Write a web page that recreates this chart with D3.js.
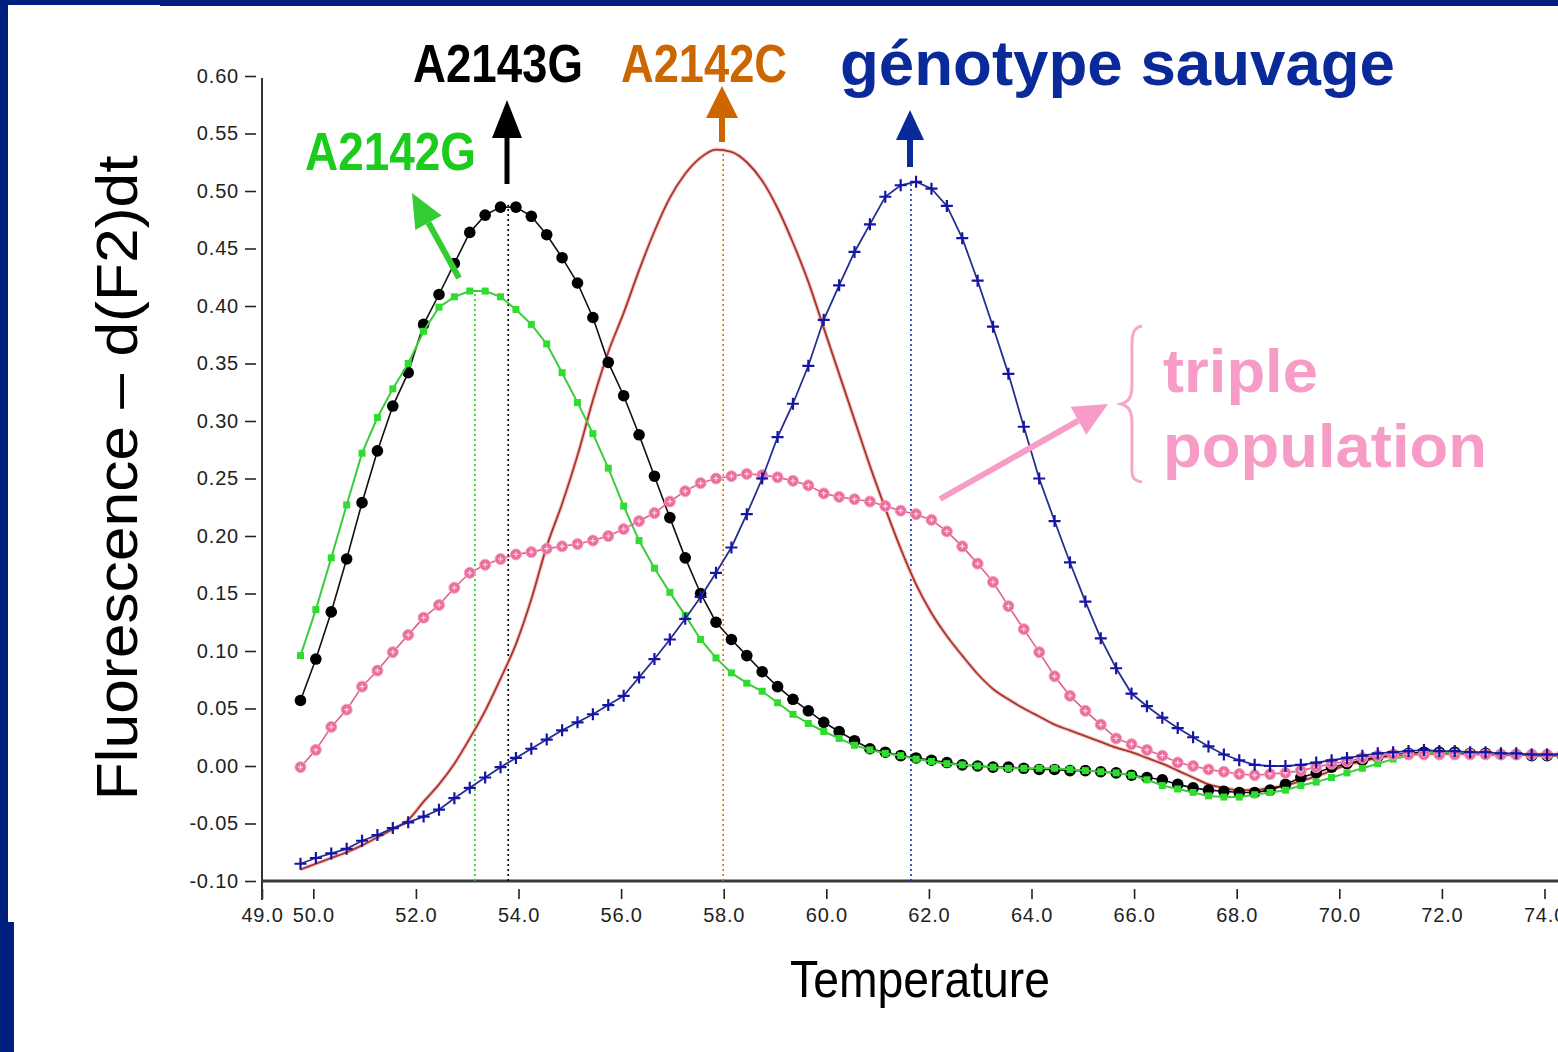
<!DOCTYPE html>
<html>
<head>
<meta charset="utf-8">
<script src="https://cdn.jsdelivr.net/npm/d3@7"></script>
<style>
  body { margin: 0; background: #fff; }
  svg { display: block; }
  text { font-family: "Liberation Sans", Arial, sans-serif; }
</style>
</head>
<body>
<svg id="chart" width="1558" height="1052"></svg>
<script>
// melting temperature scan, shared x grid (deg C)
var temps = [49.75, 50.05, 50.35, 50.65, 50.95, 51.25, 51.55, 51.85, 52.15, 52.45,
  52.75, 53.05, 53.35, 53.65, 53.95, 54.25, 54.55, 54.85, 55.15, 55.45,
  55.75, 56.05, 56.35, 56.65, 56.95, 57.25, 57.55, 57.85, 58.15, 58.45,
  58.75, 59.05, 59.35, 59.65, 59.95, 60.25, 60.55, 60.85, 61.15, 61.45,
  61.75, 62.05, 62.35, 62.65, 62.95, 63.25, 63.55, 63.85, 64.15, 64.45,
  64.75, 65.05, 65.35, 65.65, 65.95, 66.25, 66.55, 66.85, 67.15, 67.45,
  67.75, 68.05, 68.35, 68.65, 68.95, 69.25, 69.55, 69.85, 70.15, 70.45,
  70.75, 71.05, 71.35, 71.65, 71.95, 72.25, 72.55, 72.85, 73.15, 73.45,
  73.75, 74.05, 74.35];

var a2142G = [0.096, 0.136, 0.181, 0.227, 0.272, 0.303, 0.328, 0.350, 0.378, 0.399,
  0.408, 0.413, 0.413, 0.408, 0.397, 0.384, 0.367, 0.342, 0.316, 0.289,
  0.259, 0.226, 0.196, 0.172, 0.151, 0.131, 0.110, 0.094, 0.081, 0.072,
  0.065, 0.055, 0.045, 0.037, 0.030, 0.024, 0.018, 0.014, 0.011, 0.009,
  0.006, 0.004, 0.002, 0.001, 0.000, -0.001, -0.002, -0.002, -0.002, -0.002,
  -0.003, -0.004, -0.005, -0.006, -0.008, -0.012, -0.017, -0.020, -0.023, -0.026,
  -0.027, -0.027, -0.025, -0.023, -0.021, -0.017, -0.014, -0.010, -0.006, -0.002,
  0.002, 0.006, 0.009, 0.011, 0.012, 0.012, 0.012, 0.011, 0.011, 0.010,
  0.010, 0.010, 0.010];

var a2143G = [0.057, 0.093, 0.134, 0.180, 0.229, 0.274, 0.313, 0.342, 0.384, 0.410,
  0.437, 0.464, 0.479, 0.486, 0.486, 0.478, 0.462, 0.442, 0.420, 0.390,
  0.351, 0.322, 0.288, 0.252, 0.216, 0.181, 0.150, 0.125, 0.110, 0.096,
  0.082, 0.069, 0.058, 0.048, 0.038, 0.030, 0.022, 0.015, 0.012, 0.009,
  0.007, 0.005, 0.003, 0.001, 0.000, -0.001, -0.001, -0.002, -0.003, -0.003,
  -0.004, -0.004, -0.005, -0.006, -0.008, -0.010, -0.012, -0.016, -0.019, -0.021,
  -0.022, -0.023, -0.023, -0.021, -0.016, -0.010, -0.006, -0.001, 0.002, 0.005,
  0.008, 0.010, 0.011, 0.012, 0.012, 0.012, 0.011, 0.011, 0.010, 0.010,
  0.009, 0.009, 0.009];

var a2142C = [-0.090, -0.085, -0.080, -0.075, -0.069, -0.062, -0.055, -0.047, -0.031, -0.016,
  0.002, 0.024, 0.048, 0.076, 0.106, 0.145, 0.191, 0.228, 0.270, 0.318,
  0.360, 0.394, 0.431, 0.465, 0.494, 0.515, 0.529, 0.536, 0.534, 0.525,
  0.509, 0.485, 0.455, 0.421, 0.381, 0.341, 0.301, 0.261, 0.224, 0.189,
  0.158, 0.133, 0.113, 0.096, 0.080, 0.067, 0.058, 0.050, 0.043, 0.036,
  0.031, 0.026, 0.021, 0.016, 0.012, 0.007, 0.002, -0.004, -0.010, -0.016,
  -0.019, -0.021, -0.021, -0.019, -0.017, -0.013, -0.009, -0.004, 0.001, 0.004,
  0.007, 0.009, 0.010, 0.011, 0.011, 0.011, 0.011, 0.010, 0.010, 0.010,
  0.010, 0.010, 0.010];

var sauvage = [-0.085, -0.080, -0.076, -0.072, -0.065, -0.060, -0.054, -0.049, -0.044, -0.038,
  -0.028, -0.019, -0.010, -0.001, 0.007, 0.015, 0.023, 0.031, 0.038, 0.045,
  0.053, 0.061, 0.077, 0.093, 0.110, 0.128, 0.147, 0.168, 0.190, 0.219,
  0.250, 0.286, 0.315, 0.348, 0.388, 0.418, 0.447, 0.471, 0.495, 0.505,
  0.508, 0.502, 0.487, 0.459, 0.422, 0.382, 0.341, 0.295, 0.250, 0.213,
  0.177, 0.143, 0.111, 0.085, 0.063, 0.052, 0.042, 0.033, 0.025, 0.017,
  0.010, 0.005, 0.001, 0.000, 0.000, 0.001, 0.003, 0.005, 0.007, 0.009,
  0.011, 0.012, 0.013, 0.014, 0.013, 0.013, 0.012, 0.012, 0.011, 0.011,
  0.010, 0.010, 0.010];

var triple = [-0.001, 0.014, 0.034, 0.049, 0.069, 0.083, 0.099, 0.114, 0.129, 0.140,
  0.155, 0.168, 0.175, 0.180, 0.184, 0.186, 0.189, 0.191, 0.193, 0.196,
  0.200, 0.206, 0.213, 0.220, 0.230, 0.239, 0.246, 0.250, 0.252, 0.254,
  0.253, 0.251, 0.248, 0.244, 0.237, 0.234, 0.232, 0.230, 0.226, 0.222,
  0.219, 0.214, 0.204, 0.191, 0.176, 0.160, 0.139, 0.119, 0.099, 0.078,
  0.061, 0.048, 0.036, 0.024, 0.019, 0.014, 0.009, 0.003, 0.000, -0.003,
  -0.005, -0.007, -0.008, -0.007, -0.006, -0.004, -0.001, 0.002, 0.004, 0.007,
  0.009, 0.010, 0.010, 0.010, 0.010, 0.010, 0.010, 0.010, 0.010, 0.010,
  0.010, 0.010, 0.010];

// Tm peaks (dotted drop lines)
var peakTemps = [53.15, 53.80, 57.99, 61.65];
var peakValues = [0.414, 0.488, 0.536, 0.508];
var peakColors = ['#22cc22', '#000000', '#e07000', '#1030b0'];

var yTicks = [-0.10, -0.05, 0.00, 0.05, 0.10, 0.15, 0.20, 0.25, 0.30, 0.35, 0.40, 0.45, 0.50, 0.55, 0.60];
var xTicks = [49, 50, 52, 54, 56, 58, 60, 62, 64, 66, 68, 70, 72, 74];

var svg = d3.select('#chart');
var W = 1558, H = 1052;
var navy = '#00207f';

svg.append('rect').attr('width', W).attr('height', H).attr('fill', '#fff');

// slide frame
svg.append('rect').attr('x', 0).attr('y', 0).attr('width', 160).attr('height', 5).attr('fill', navy);
svg.append('rect').attr('x', 160).attr('y', 0).attr('width', W - 160).attr('height', 6).attr('fill', navy);
svg.append('rect').attr('x', 0).attr('y', 0).attr('width', 8).attr('height', 922).attr('fill', navy);
svg.append('rect').attr('x', 0).attr('y', 922).attr('width', 14).attr('height', H - 922).attr('fill', navy);

var x = d3.scaleLinear().domain([49, 74]).range([262, 1544.5]);
var y = d3.scaleLinear().domain([-0.10, 0.60]).range([881, 76]);

// axes
var xAxis = svg.append('g').attr('transform', 'translate(0,881)')
  .call(d3.axisBottom(x).tickValues(xTicks).tickFormat(function(d) { return d.toFixed(1); }).tickSizeOuter(0));
xAxis.select('.domain').remove();
xAxis.selectAll('line').attr('y1', 8).attr('y2', 18).attr('stroke', '#222').attr('stroke-width', 1.6);
xAxis.selectAll('text').attr('y', 27).attr('font-size', 20).attr('letter-spacing', 0.8).attr('fill', '#222')
  .attr('font-family', '"Liberation Sans", Arial, sans-serif');

var yAxis = svg.append('g').attr('transform', 'translate(262,0)')
  .call(d3.axisLeft(y).tickValues(yTicks).tickFormat(function(d) { return d.toFixed(2); }).tickSizeOuter(0));
yAxis.select('.domain').remove();
yAxis.selectAll('line').attr('x1', -17).attr('x2', -6).attr('stroke', '#222').attr('stroke-width', 1.6);
yAxis.selectAll('text').attr('x', -23).attr('font-size', 20).attr('letter-spacing', 0.8).attr('fill', '#222')
  .attr('font-family', '"Liberation Sans", Arial, sans-serif');

svg.append('line').attr('x1', 262).attr('x2', 262).attr('y1', 78).attr('y2', 900)
  .attr('stroke', '#333').attr('stroke-width', 2);
svg.append('line').attr('x1', 262).attr('x2', W).attr('y1', 881).attr('y2', 881)
  .attr('stroke', '#3a3a3a').attr('stroke-width', 3);

// axis titles
svg.append('text').attr('transform', 'translate(137,478) rotate(-90)')
  .attr('text-anchor', 'middle').attr('font-size', 58).attr('fill', '#000')
  .attr('textLength', 645).attr('lengthAdjust', 'spacingAndGlyphs')
  .text('Fluorescence \u2013 d(F2)dt');
svg.append('text').attr('x', 920).attr('y', 997)
  .attr('text-anchor', 'middle').attr('font-size', 52).attr('fill', '#000')
  .attr('textLength', 260).attr('lengthAdjust', 'spacingAndGlyphs')
  .text('Temperature');

// dotted Tm lines
svg.append('g').selectAll('line').data(peakTemps).join('line')
  .attr('x1', function(d) { return x(d); }).attr('x2', function(d) { return x(d); })
  .attr('y1', y(-0.10)).attr('y2', function(d, i) { return y(peakValues[i]); })
  .attr('stroke', function(d, i) { return peakColors[i]; })
  .attr('stroke-width', 1.6).attr('stroke-dasharray', '2,3');

var plot = svg.append('g');
function series(vals) {
  return temps.map(function(t, i) { return [t, vals[i]]; });
}
var line = d3.line().x(function(d) { return x(d[0]); }).y(function(d) { return y(d[1]); });
var smooth = d3.line().curve(d3.curveMonotoneX).x(function(d) { return x(d[0]); }).y(function(d) { return y(d[1]); });

// A2142C: plain brown line
plot.append('path').attr('d', smooth(series(a2142C)))
  .attr('fill', 'none').attr('stroke', '#f4c8c8').attr('stroke-width', 4);
plot.append('path').attr('d', smooth(series(a2142C)))
  .attr('fill', 'none').attr('stroke', '#a8352c').attr('stroke-width', 1.8);

// A2143G: black dots
plot.append('path').attr('d', line(series(a2143G)))
  .attr('fill', 'none').attr('stroke', '#111').attr('stroke-width', 1.6);
plot.append('g').selectAll('circle').data(series(a2143G)).join('circle')
  .attr('cx', function(d) { return x(d[0]); }).attr('cy', function(d) { return y(d[1]); })
  .attr('r', 5.8).attr('fill', '#000');

// A2142G: green squares
plot.append('path').attr('d', line(series(a2142G)))
  .attr('fill', 'none').attr('stroke', '#3ccc3c').attr('stroke-width', 2);
plot.append('g').selectAll('rect').data(series(a2142G)).join('rect')
  .attr('x', function(d) { return x(d[0]) - 3.5; }).attr('y', function(d) { return y(d[1]) - 3.5; })
  .attr('width', 7).attr('height', 7).attr('fill', '#2fdc2f');

// triple population: pink circles
plot.append('path').attr('d', line(series(triple)))
  .attr('fill', 'none').attr('stroke', '#e0608f').attr('stroke-width', 1.6);
var pk = plot.append('g').selectAll('g').data(series(triple)).join('g')
  .attr('transform', function(d) { return 'translate(' + x(d[0]) + ',' + y(d[1]) + ')'; });
pk.append('circle').attr('r', 5.5).attr('fill', '#ec6c9c').attr('stroke', '#f3a0c0').attr('stroke-width', 1);
pk.append('path').attr('d', 'M-2.5,0H2.5M0,-2.5V2.5').attr('stroke', '#fbd8e6').attr('stroke-width', 1.2);

// wild type: blue crosses
plot.append('path').attr('d', line(series(sauvage)))
  .attr('fill', 'none').attr('stroke', '#26308c').attr('stroke-width', 1.8);
plot.append('g').selectAll('path').data(series(sauvage)).join('path')
  .attr('d', function(d) {
    var cx = x(d[0]), cy = y(d[1]);
    return 'M' + (cx - 6) + ',' + cy + 'H' + (cx + 6) + 'M' + cx + ',' + (cy - 6) + 'V' + (cy + 6);
  })
  .attr('stroke', '#1414a8').attr('stroke-width', 2.2);

// annotations
function arrow(x1, y1, x2, y2, color, w, hl, hw) {
  var ang = Math.atan2(y2 - y1, x2 - x1);
  var bx = x2 - hl * Math.cos(ang), by = y2 - hl * Math.sin(ang);
  svg.append('line').attr('x1', x1).attr('y1', y1).attr('x2', bx).attr('y2', by)
    .attr('stroke', color).attr('stroke-width', w);
  var px = -Math.sin(ang) * hw / 2, py = Math.cos(ang) * hw / 2;
  svg.append('path')
    .attr('d', 'M' + x2 + ',' + y2 + 'L' + (bx + px) + ',' + (by + py) + 'L' + (bx - px) + ',' + (by - py) + 'Z')
    .attr('fill', color);
}
arrow(507, 184, 507, 100, '#000', 5, 38, 30);
arrow(722, 142, 722, 86, '#cc6600', 6, 32, 32);
arrow(910, 167, 910, 110, '#0a2a9a', 6, 30, 28);
arrow(459, 278, 412, 193, '#33cc33', 6, 34, 30);
arrow(940, 499, 1108, 404, '#f79cc6', 6, 34, 32);

function label(txt, lx, ly, size, color, len) {
  var t = svg.append('text').attr('x', lx).attr('y', ly).attr('font-size', size)
    .attr('font-weight', 'bold').attr('fill', color).text(txt);
  if (len) t.attr('textLength', len).attr('lengthAdjust', 'spacingAndGlyphs');
}
label('A2143G', 413, 82, 53, '#000', 170);
label('A2142C', 621, 82, 53, '#cc6600', 166);
label('A2142G', 305, 170, 53, '#1ccc1c', 171);
label('g\u00e9notype sauvage', 840, 85, 63, '#0a2a9a', 555);
label('triple', 1163, 392, 62, '#f79cc6', 155);
label('population', 1163, 467, 62, '#f79cc6', 324);

// brace
svg.append('path')
  .attr('d', 'M1142,326 C1130,328 1132,340 1132,360 L1132,385 C1132,398 1128,402 1121,404 C1128,406 1132,410 1132,423 L1132,460 C1132,474 1130,480 1142,482')
  .attr('fill', 'none').attr('stroke', '#f7a6c9').attr('stroke-width', 3);
</script>
</body>
</html>
